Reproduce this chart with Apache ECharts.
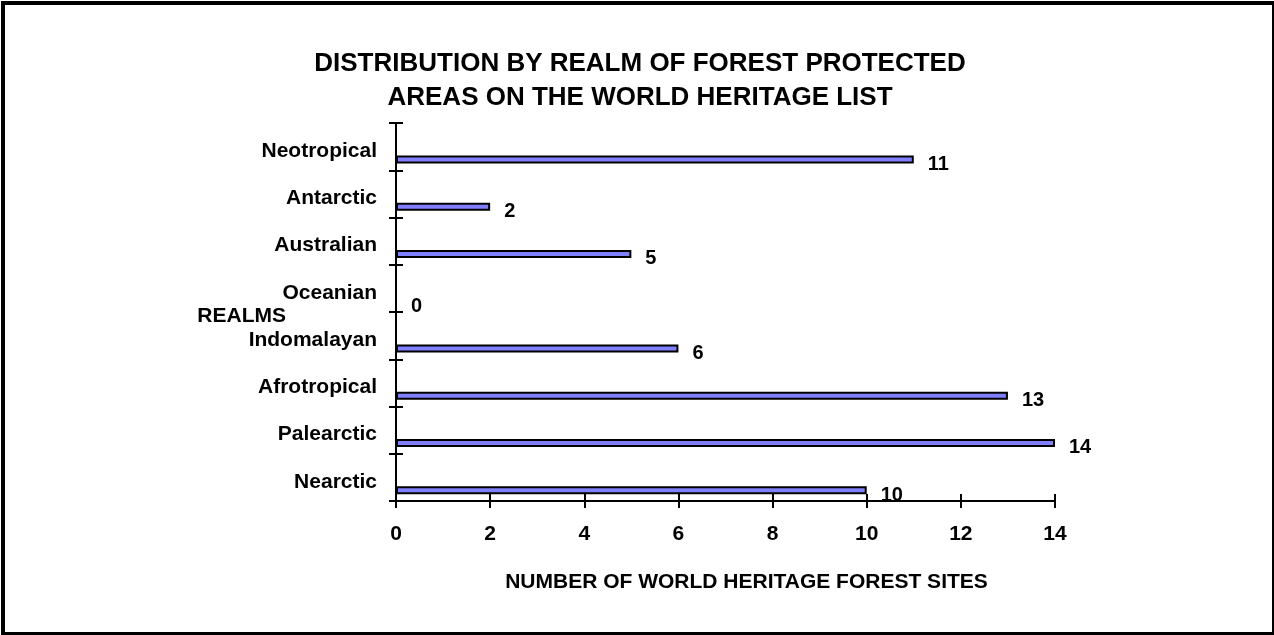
<!DOCTYPE html>
<html>
<head>
<meta charset="utf-8">
<script src="https://cdn.jsdelivr.net/npm/echarts@6/dist/echarts.min.js"></script>
<style>
html,body{margin:0;padding:0;background:#fff;overflow:hidden;}
#frame{position:absolute;left:1px;top:1px;width:1267px;height:627px;border:4px solid #000;}
#chart{position:absolute;left:0;top:0;width:1274px;height:635px;}
</style>
</head>
<body>
<div id="frame"></div>
<div id="chart"></div>
<script>
// Data (categories listed bottom to top)
var realms = ['Nearctic', 'Palearctic', 'Afrotropical', 'Indomalayan', 'Oceanian', 'Australian', 'Antarctic', 'Neotropical'];
var siteCounts = [10, 14, 13, 6, 0, 5, 2, 11];
var xTicks = [0, 2, 4, 6, 8, 10, 12, 14];

var titleText = 'DISTRIBUTION BY REALM OF FOREST PROTECTED\nAREAS ON THE WORLD HERITAGE LIST';
var xName = 'NUMBER OF WORLD HERITAGE FOREST SITES';
var yName = 'REALMS';

var FONT = '"Liberation Sans", Arial, sans-serif';
var chart = echarts.init(document.getElementById('chart'));
var placeholder = realms.map(function () { return 0; });

var option = {
  backgroundColor: 'transparent',
  animation: false,
  title: {
    text: titleText,
    left: 640,
    textAlign: 'center',
    top: 47,
    padding: 0,
    textStyle: { fontFamily: FONT, fontWeight: 'bold', fontSize: 26, lineHeight: 34, color: '#000' }
  },
  grid: { left: 396, right: 219, top: 123, bottom: 134, containLabel: false },
  xAxis: [{
    type: 'value',
    min: xTicks[0],
    max: xTicks[xTicks.length - 1],
    interval: 2,
    splitLine: { show: false },
    axisLine: { show: true, lineStyle: { color: '#000', width: 2 } },
    axisTick: { show: true, inside: false, length: 7, lineStyle: { color: '#000', width: 2 } },
    axisLabel: { margin: 23, fontFamily: FONT, fontWeight: 'bold', fontSize: 21, color: '#000' },
    name: xName,
    nameLocation: 'middle',
    nameGap: 71,
    nameMoveOverlap: false,
    nameTextStyle: { fontFamily: FONT, fontWeight: 'bold', fontSize: 21, color: '#000', padding: [0, 0, 0, 42] }
  }, {
    type: 'value',
    position: 'bottom',
    min: xTicks[0],
    max: xTicks[xTicks.length - 1],
    interval: 2,
    splitLine: { show: false },
    axisLine: { show: false },
    axisTick: { show: true, inside: true, length: 7, lineStyle: { color: '#000', width: 2 } },
    axisLabel: { show: false }
  }],
  yAxis: [{
    type: 'category',
    data: realms,
    axisLine: { show: true, lineStyle: { color: '#000', width: 2 } },
    axisTick: { show: true, inside: false, length: 7, lineStyle: { color: '#000', width: 2 } },
    axisLabel: { margin: 19, fontFamily: FONT, fontWeight: 'bold', fontSize: 21, color: '#000', verticalAlign: 'top', lineHeight: 9 },
    name: yName,
    nameLocation: 'middle',
    nameRotate: 0,
    nameGap: 110,
    nameMoveOverlap: false,
    nameTextStyle: { fontFamily: FONT, fontWeight: 'bold', fontSize: 21, color: '#000', align: 'right', verticalAlign: 'top', lineHeight: 8 }
  }, {
    type: 'category',
    position: 'left',
    data: realms,
    axisLine: { show: false },
    axisTick: { show: true, inside: true, length: 7, lineStyle: { color: '#000', width: 2 } },
    axisLabel: { show: false }
  }],
  series: [{
    type: 'bar',
    name: 'spacer',
    data: placeholder,
    barWidth: 8,
    barGap: '220%',
    silent: true,
    itemStyle: { color: 'transparent', borderWidth: 0 },
    label: { show: false }
  }, {
    type: 'bar',
    name: 'Sites',
    data: siteCounts,
    barWidth: 8,
    barGap: '220%',
    itemStyle: { color: '#8080ff', borderColor: '#000', borderWidth: 2 },
    label: {
      show: true,
      position: 'right',
      distance: 14,
      offset: [0, 5],
      fontFamily: FONT,
      fontWeight: 'bold',
      fontSize: 20,
      color: '#000'
    }
  }]
};
chart.setOption(option);
</script>
</body>
</html>
